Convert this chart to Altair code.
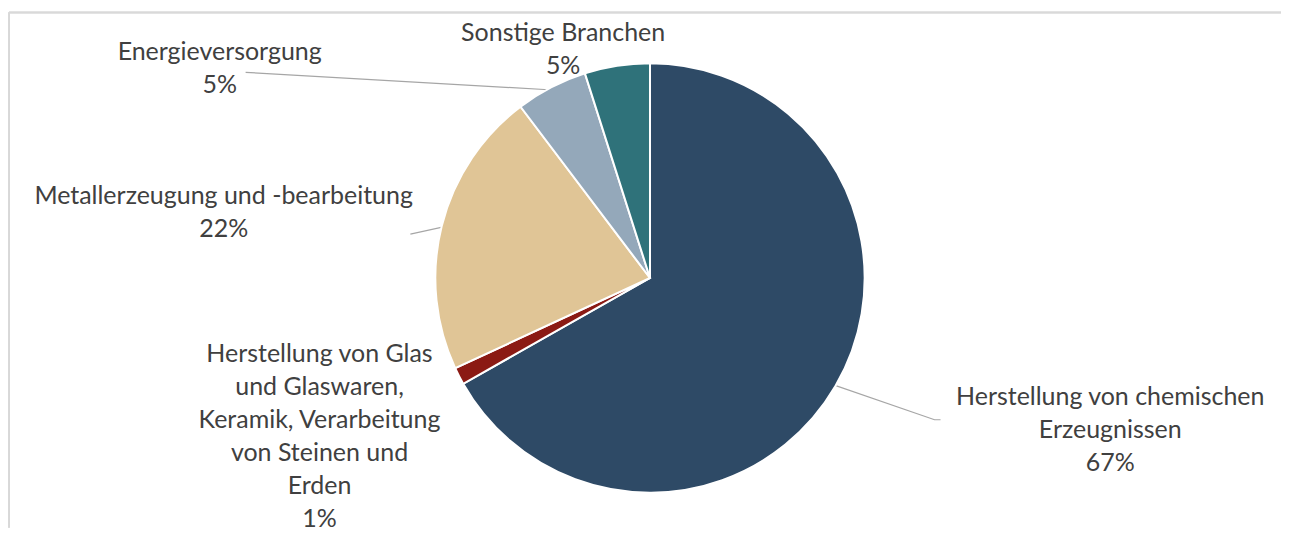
import math
import altair as alt
import pandas as pd

# ---- data ----
categories = [
    "Herstellung von chemischen Erzeugnissen",
    "Herstellung von Glas und Glaswaren, Keramik, Verarbeitung von Steinen und Erden",
    "Metallerzeugung und -bearbeitung",
    "Energieversorgung",
    "Sonstige Branchen",
]
label_lines = [
    ["Herstellung von chemischen", "Erzeugnissen"],
    ["Herstellung von Glas", "und Glaswaren,", "Keramik, Verarbeitung", "von Steinen und", "Erden"],
    ["Metallerzeugung und -bearbeitung"],
    ["Energieversorgung"],
    ["Sonstige Branchen"],
]
shares = [66.8, 1.3, 21.6, 5.4, 4.9]
colors = ["#2E4A66", "#8B1A14", "#E0C596", "#94A8BA", "#2F727A"]

# ---- layout ----
W, H = 1274, 520
CX, CY, R = 642, 270, 215
TEXT = "#404040"
FONT = "Lato"

df = pd.DataFrame({
    "category": categories,
    "share": shares,
    "order": list(range(len(categories))),
    "label": ["\n".join(l) + "\n" + f"{round(s)}%" for l, s in zip(label_lines, shares)],
})

base = alt.Chart(df)

pie = base.mark_arc(stroke="white", strokeWidth=2, outerRadius=R).encode(
    theta=alt.Theta("share:Q", stack=True),
    order=alt.Order("order:Q"),
    color=alt.Color("category:N", scale=alt.Scale(domain=categories, range=colors), legend=None),
    x=alt.value(CX),
    y=alt.value(CY),
)

# label anchors (center x, first baseline y) per category
label_pos = {
    categories[0]: (1103, 397),
    categories[1]: (311, 354),
    categories[2]: (215, 196),
    categories[3]: (211, 52),
    categories[4]: (555, 33),
}
text_layers = []
for cat, (lx, ly) in label_pos.items():
    text_layers.append(
        base.transform_filter(alt.datum.category == cat).mark_text(
            font=FONT, fontSize=25, color=TEXT, lineBreak="\n", lineHeight=33,
            align="center", baseline="alphabetic",
        ).encode(text="label:N", x=alt.value(lx), y=alt.value(ly))
    )

# leader lines: start on the slice's mid-angle, end at the label
total = sum(shares)
cum = 0.0
mids = []
for s in shares:
    mids.append((cum + s / 2) / total)
    cum += s
leader_ends = {
    0: [(927, 412), (933, 412)],
    2: [(402, 226)],
    3: [(237, 64)],
}
rows = []
for i, ends in leader_ends.items():
    a = 2 * math.pi * mids[i]
    r = R - 3
    rows.append({"cat": categories[i], "k": 0, "x": CX + r * math.sin(a), "y": CY - r * math.cos(a)})
    for k, (ex, ey) in enumerate(ends, start=1):
        rows.append({"cat": categories[i], "k": k, "x": ex, "y": ey})
lead_df = pd.DataFrame(rows)

leaders = alt.Chart(lead_df).mark_line(color="#A6A6A6", strokeWidth=1.2).encode(
    x=alt.X("x:Q", scale=alt.Scale(domain=[0, W], nice=False, zero=False), axis=None),
    y=alt.Y("y:Q", scale=alt.Scale(domain=[0, H], nice=False, zero=False, reverse=True), axis=None),
    detail="cat:N",
    order="k:Q",
)

frame_top = alt.Chart(df).mark_rule(color="#D9D9D9", strokeWidth=1.5).encode(
    x=alt.value(0), x2=alt.value(W), y=alt.value(4)
)
frame_left = alt.Chart(df).mark_rule(color="#D9D9D9", strokeWidth=1.5).encode(
    x=alt.value(0), y=alt.value(4), y2=alt.value(H)
)

chart = alt.layer(frame_top, frame_left, leaders, pie, *text_layers).properties(
    width=W, height=H, padding=0
).configure_view(strokeWidth=0)

chart.save("out.html", embed_options={"renderer": "svg", "actions": False})
